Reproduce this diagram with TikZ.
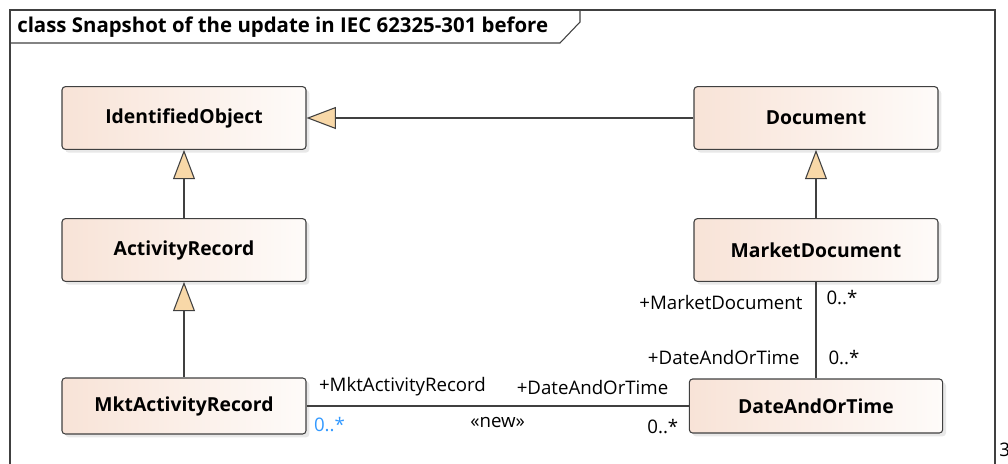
\documentclass[tikz,border=0pt]{standalone}
\usepackage{fontspec}
\setmainfont{Open Sans}
\usetikzlibrary{arrows.meta, positioning, shadows}
\definecolor{boxleft}{RGB}{248,227,215}
\definecolor{boxright}{RGB}{254,251,249}
\definecolor{genfill}{RGB}{248,216,168}
\definecolor{multblue}{RGB}{51,153,255}
\definecolor{frameline}{RGB}{64,64,64}
\tikzset{
  classbox/.style={rectangle, rounded corners=2.5pt, minimum width=183pt, minimum height=47pt, text centered,
                   draw=frameline, line width=0.8pt, left color=boxleft, right color=boxright,
                   font=\bfseries\fontsize{14.5}{16}\selectfont,
                   drop shadow={opacity=0.18, shadow xshift=2.5pt, shadow yshift=-2.5pt}},
  gen/.style={line width=0.8pt, draw=frameline, -{Triangle[open, fill=genfill, length=22pt, width=16.5pt]}},
  assoc/.style={line width=0.8pt, draw=frameline},
  role/.style={font=\fontsize{14}{16}\selectfont, inner sep=2pt},
  frame/.style={draw=frameline, line width=0.8pt}
}

\begin{document}
\begin{tikzpicture}[x=0.75pt, y=-0.75pt, node distance=99pt]
\useasboundingbox (0,0) rectangle (1008,464);

% Frame
\draw [frame] (10,464) -- (10,10) -- (995,10) -- (995,464);
\draw [frame] (10,43) -- (560,43) -- (580,22) -- (580,10);
\node (title) [anchor=west, inner sep=0pt, font=\bfseries\fontsize{15.3}{17}\selectfont] at (17,27) {class Snapshot of the update in IEC 62325-301 before};
\node (pagenum) [anchor=west, inner sep=0pt, font=\fontsize{14}{16}\selectfont] at (999,450) {3};

% Nodes
\node (ident) [classbox] at (184,118) {IdentifiedObject};
\node (doc) [classbox, right of=ident, xshift=375pt] {Document};
\node (activity) [classbox, below of=ident] {ActivityRecord};
\node (mktdoc) [classbox, below of=doc] {MarketDocument};
\node (mktact) [classbox, below of=activity, yshift=-18pt, minimum height=42pt] {MktActivityRecord};
\node (datetime) [classbox, below of=mktdoc, yshift=-18pt, minimum width=190pt, minimum height=40.5pt] {DateAndOrTime};

% Generalizations
\draw [gen] (doc) -- (ident);
\draw [gen] (activity) -- (ident);
\draw [gen] (mktact) -- (activity);
\draw [gen] (mktdoc) -- (doc);

% Associations
\draw [assoc] (mktdoc) -- (datetime)
  node [role, pos=0, anchor=east, xshift=-7.75pt, yshift=-15.75pt] {+MarketDocument}
  node [role, pos=0, anchor=west, xshift=5.5pt, yshift=-12pt] {0..*}
  node [role, pos=1, anchor=east, xshift=-10pt, yshift=15.75pt] {+DateAndOrTime}
  node [role, pos=1, anchor=west, xshift=7pt, yshift=15.75pt] {0..*};
\draw [assoc] (mktact) -- (datetime)
  node [role, pos=0, anchor=west, xshift=7pt, yshift=14.25pt] {+MktActivityRecord}
  node [role, pos=0, anchor=west, xshift=3.25pt, yshift=-14.25pt, text=multblue] {0..*}
  node [role, midway, yshift=-12.75pt] {«new»}
  node [role, pos=1, anchor=east, xshift=-13pt, yshift=14.25pt] {+DateAndOrTime}
  node [role, pos=1, anchor=east, xshift=-5.5pt, yshift=-15.75pt] {0..*};
\end{tikzpicture}
\end{document}
